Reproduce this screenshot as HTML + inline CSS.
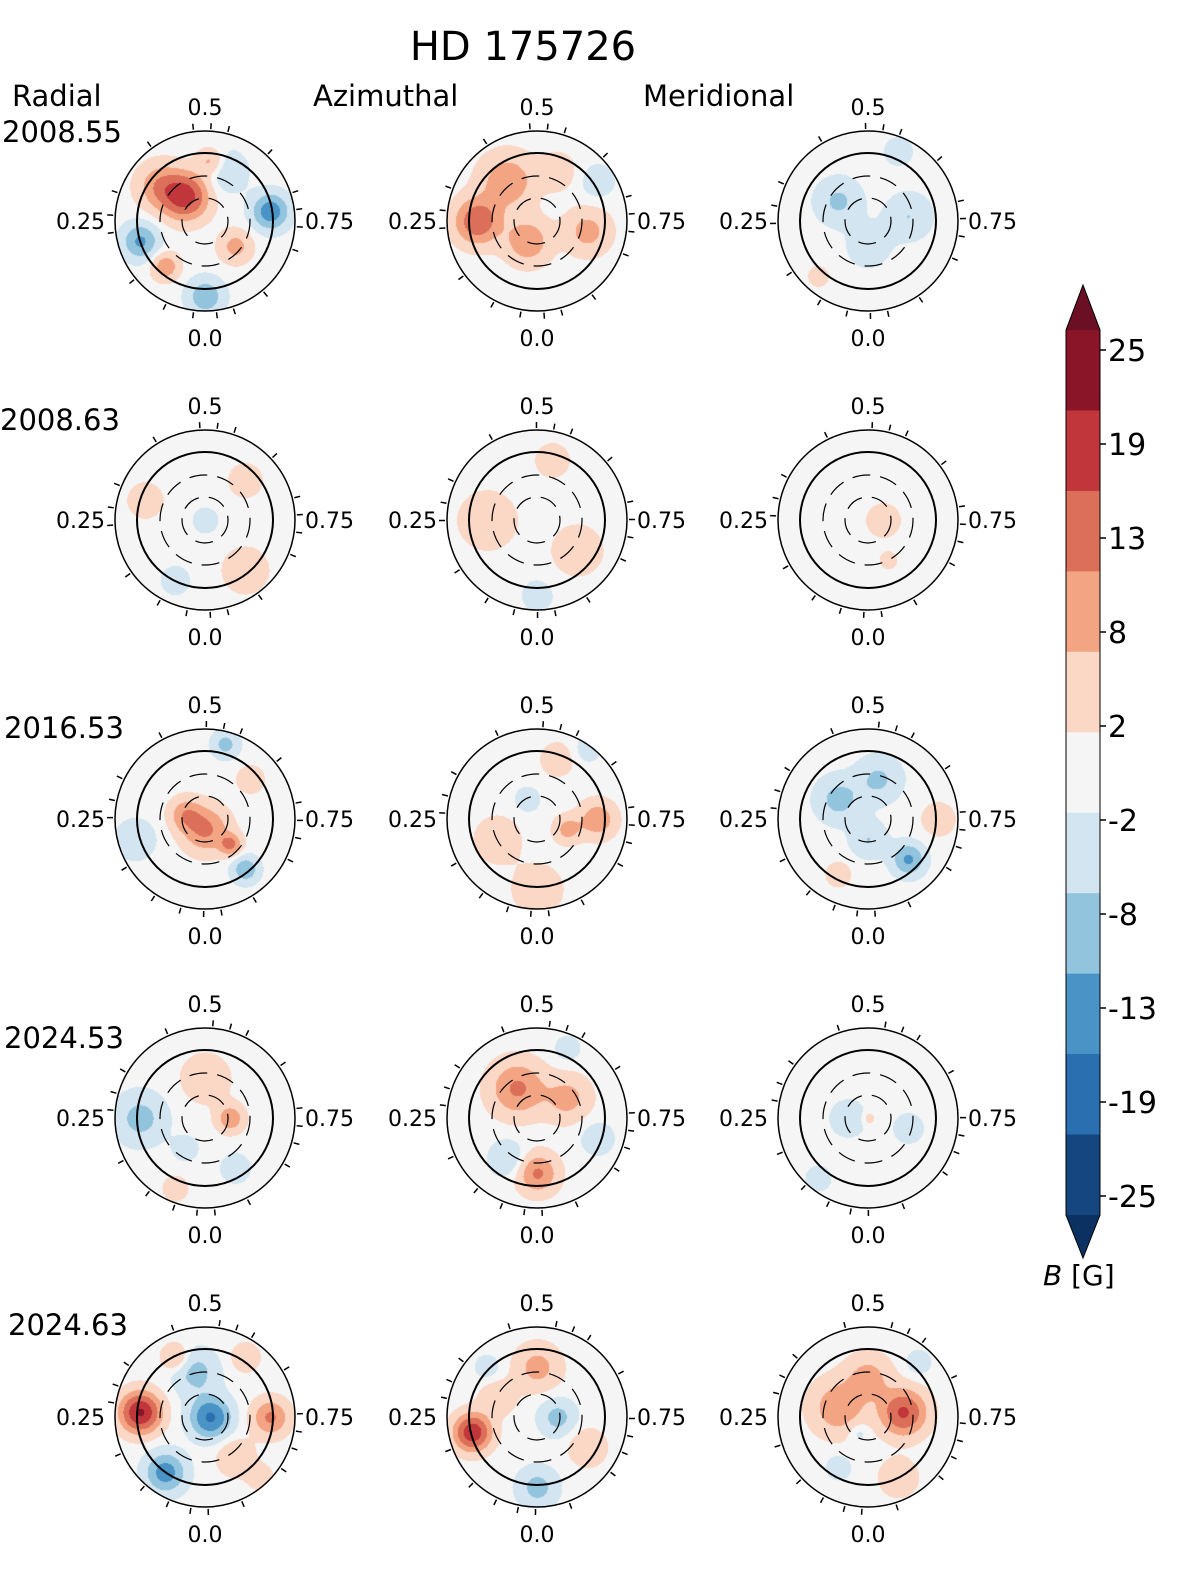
<!DOCTYPE html>
<html><head><meta charset="utf-8"><style>
body{margin:0;background:#fff;width:1200px;height:1585px;overflow:hidden;position:relative;font-family:"Liberation Sans","DejaVu Sans",sans-serif}
canvas,svg{position:absolute;left:0;top:0}
</style></head><body>
<canvas id="field" width="1200" height="1585"></canvas>
<svg id="ov" width="1200" height="1585" font-family="DejaVu Sans, Liberation Sans, sans-serif"></svg>
<script>
// Map data: blobs [dx, dy, value(G), radius(px)] relative to map centre
const epochs=["2008.55","2008.63","2016.53","2024.53","2024.63"];
const components=["Radial","Azimuthal","Meridional"];
const cbTicks=[25,19,13,8,2,-2,-8,-13,-19,-25];
const levelEdges=[-23,-17,-11,-6,-1.5,1.5,6,11,17,23];
const levelColors=['#15467f','#2a6fb0','#4a93c6','#93c4de','#d3e5f0','#f5f5f5','#fbd7c6','#f3a583','#dc6f59','#c0363a','#8a1428'];
const blobsR1C1=[[-20,-25,20,25],[-45,-35,10,25],[65,-10,-15,20],[-65,20,-12,20],[-40,45,10,15],[0,75,-10,20],[30,25,8,18],[20,-50,-5,25],[5,-60,8,15]];
const blobsR1C2=[[-60,0,16,25],[-30,-40,10,30],[-10,20,10,25],[50,10,8,25],[20,-50,5,20],[60,-40,-4,20]];
const blobsR1C3=[[-30,-20,-7,25],[40,-5,-6,25],[30,-70,-5,15],[0,25,-4,25],[-50,55,4,12]];
const blobsR2C1=[[40,-40,4,20],[40,50,5,25],[0,0,-4,15],[-30,60,-3,20],[-60,-20,3,25]];
const blobsR2C2=[[-50,0,4,35],[15,-60,4,20],[40,30,4,30],[0,75,-4,18]];
const blobsR2C3=[[15,0,4,20],[20,40,3,12]];
const blobsR3C1=[[0,10,12,25],[25,25,12,12],[20,-75,-8,15],[40,50,-10,15],[-20,-5,9,18],[-70,20,-4,25],[45,-40,5,15]];
const blobsR3C2=[[60,0,10,20],[30,10,8,15],[-10,-20,-4,15],[-40,20,5,25],[20,-60,4,20],[50,-70,-4,15],[0,70,4,30]];
const blobsR3C3=[[-30,-20,-8,25],[40,40,-12,18],[10,-40,-7,25],[0,20,-6,20],[70,0,4,20],[-30,55,4,15]];
const blobsR4C1=[[-65,0,-8,28],[25,0,10,15],[0,-40,4,30],[-20,30,-4,15],[30,50,-6,15],[-30,70,4,15]];
const blobsR4C2=[[-20,-30,12,30],[30,-20,8,25],[-30,40,-6,20],[0,55,12,22],[30,-70,-4,15],[60,20,-4,20]];
const blobsR4C3=[[-20,0,-5,20],[40,10,-6,15],[-50,60,-4,15],[0,0,4,8]];
const blobsR5C1=[[-65,-5,24,22],[65,0,12,20],[5,0,-18,22],[-40,55,-14,22],[-10,-45,-8,25],[-30,-60,8,15],[40,-60,6,15],[30,40,6,20],[55,60,4,15]];
const blobsR5C2=[[-65,15,22,20],[0,-50,8,25],[20,0,-8,20],[0,70,-8,22],[-40,-20,5,20],[50,30,6,20],[-50,-50,-4,15]];
const blobsR5C3=[[35,-5,18,25],[-30,-10,10,30],[0,-40,8,25],[-10,15,-4,12],[-30,50,-4,15],[30,60,6,20],[50,-55,-4,15]];
const maps=[[blobsR1C1,blobsR1C2,blobsR1C3],[blobsR2C1,blobsR2C2,blobsR2C3],[blobsR3C1,blobsR3C2,blobsR3C3],[blobsR4C1,blobsR4C2,blobsR4C3],[blobsR5C1,blobsR5C2,blobsR5C3]];

const colX=[205,537,868], rowY=[221,520,819,1118,1417], R=90;
function levelColor(v){let i=0;while(i<levelEdges.length&&v>levelEdges[i])i++;return levelColors[i];}
function hex(c){return [parseInt(c.slice(1,3),16),parseInt(c.slice(3,5),16),parseInt(c.slice(5,7),16)];}
const ctx=document.getElementById('field').getContext('2d');
const img=ctx.createImageData(1200,1585);
for(let i=0;i<img.data.length;i+=4){img.data[i]=img.data[i+1]=img.data[i+2]=img.data[i+3]=255;}
maps.forEach((row,ri)=>row.forEach((bl,ci)=>{
  const cx=colX[ci],cy=rowY[ri];
  for(let y=-R;y<=R;y++)for(let x=-R;x<=R;x++){
    if(x*x+y*y>R*R)continue;
    let v=0;bl.forEach(b=>{const s=b[3]*0.62;const dx=x-b[0],dy=y-b[1];v+=b[2]*Math.exp(-(dx*dx+dy*dy)/(2*s*s));});
    const c=hex(levelColor(v));const p=((cy+y)*1200+cx+x)*4;
    img.data[p]=c[0];img.data[p+1]=c[1];img.data[p+2]=c[2];
  }
}));
ctx.putImageData(img,0,0);

const svg=document.getElementById('ov');const NS='http://www.w3.org/2000/svg';
function mk(t,a,txt){const e=document.createElementNS(NS,t);for(const k in a)e.setAttribute(k,a[k]);if(txt!==undefined)e.textContent=txt;svg.appendChild(e);return e;}
let e;
e=mk('text',{x:523,y:60,'font-size':40,'text-anchor':'middle'},'HD 175726');


const hdrX=[12,313,643];
components.forEach((c,i)=>{e=mk('text',{x:hdrX[i],y:106,'font-size':29},c);

});
const epY=[142,430,738,1048,1335],epX=[2,0,4,4,8];
epochs.forEach((ep,i)=>{e=mk('text',{x:epX[i],y:epY[i],'font-size':29},ep);

});
const tickPhases=[0.02,0.05,0.11,0.2,0.24,0.27,0.3,0.38,0.46,0.49,0.52,0.6,0.7,0.74,0.77,0.86,0.93,0.98];
rowY.forEach((cy,ri)=>colX.forEach((cx,ci)=>{
  e=mk('circle',{cx:cx,cy:cy,r:R,fill:'none',stroke:'#000','stroke-width':1.5});
  
  
  e=mk('circle',{cx:cx,cy:cy,r:68,fill:'none',stroke:'#000','stroke-width':2});
  
  
  [45,23].forEach(r=>{e=mk('circle',{cx:cx,cy:cy,r:r,fill:'none',stroke:'#000','stroke-width':1.2,'stroke-dasharray':'18 10'});
  
  });
  tickPhases.forEach((p,k)=>{const a=Math.PI/2-p*2*Math.PI+(ri*0.07+ci*0.05);const dx=Math.cos(a),dy=Math.sin(a);
    e=mk('line',{x1:cx+dx*(R+2),y1:cy+dy*(R+2),x2:cx+dx*(R+8),y2:cy+dy*(R+8),stroke:'#000','stroke-width':1.5});
    
    });
  const labs=[[cx,cy-106,'0.5','middle'],[cx,cy+125,'0.0','middle'],[cx-100,cy+8,'0.25','end'],[cx+100,cy+8,'0.75','start']];
  labs.forEach(l=>{e=mk('text',{x:l[0],y:l[1],'font-size':22,'text-anchor':l[3]},l[2]);
  
  });
}));
// colorbar
const cbX=1066,cbW=34,cbTop=330,cbBot=1215;
const bh=(cbBot-cbTop)/levelColors.length;
levelColors.slice().reverse().forEach((c,i)=>{e=mk('rect',{x:cbX,y:cbTop+i*bh,width:cbW,height:bh+0.5,fill:c});

});
e=mk('polygon',{points:`${cbX},${cbTop} ${cbX+cbW/2},285 ${cbX+cbW},${cbTop}`,fill:'#6b0f24'});


e=mk('polygon',{points:`${cbX},${cbBot} ${cbX+cbW/2},1258 ${cbX+cbW},${cbBot}`,fill:'#0b3162'});


e=mk('polygon',{points:`${cbX},${cbTop} ${cbX+cbW/2},285 ${cbX+cbW},${cbTop} ${cbX+cbW},${cbBot} ${cbX+cbW/2},1258 ${cbX},${cbBot}`,fill:'none',stroke:'#000','stroke-width':1});


cbTicks.forEach((t,i)=>{const y=350+i*94;
  e=mk('line',{x1:cbX+cbW,y1:y,x2:cbX+cbW+6,y2:y,stroke:'#000','stroke-width':1.5});
  
  
  e=mk('text',{x:1108,y:y+11,'font-size':30},String(t));
  
  });
e=mk('text',{x:1043,y:1285,'font-size':28});
e.innerHTML='<tspan font-style="italic">B</tspan> [G]';


</script>
</body></html>
